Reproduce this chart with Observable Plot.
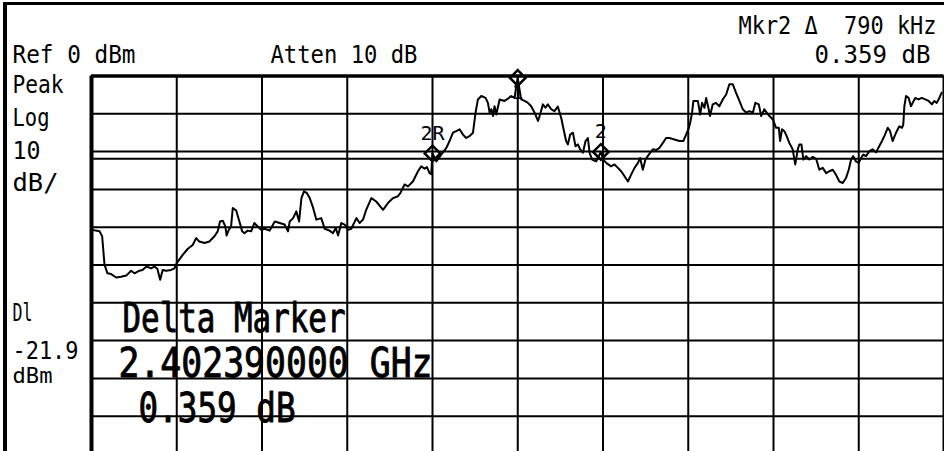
<!DOCTYPE html>
<html><head><meta charset="utf-8">
<script src="https://cdn.jsdelivr.net/npm/d3@7"></script>
<script src="https://cdn.jsdelivr.net/npm/@observablehq/plot@0.6"></script>
<style>
html,body{margin:0;padding:0;background:#fff;}
#wrap{position:relative;width:944px;height:451px;overflow:hidden;background:#fff;}
#border{position:absolute;left:3px;top:2px;width:980px;height:480px;border-left:4px solid #000;border-top:3px solid #000;pointer-events:none;}
</style></head><body>
<div id="wrap"><div id="chart"></div><div id="border"></div></div>
<script>
// ---- data ----
const startMHz = 2400.0, stopMHz = 2404.0;
const refLevelDbm = 0, bottomLevelDbm = -100;
const freqMHz = [
2400.000,2400.019,2400.038,2400.050,2400.061,2400.075,2400.092,2400.116,2400.139,2400.163,
2400.186,2400.202,2400.225,2400.239,2400.258,2400.280,2400.295,2400.309,2400.322,2400.334,
2400.350,2400.374,2400.389,2400.400,2400.428,2400.452,2400.475,2400.491,2400.506,2400.530,
2400.553,2400.577,2400.592,2400.603,2400.616,2400.628,2400.634,2400.644,2400.655,2400.663,
2400.679,2400.694,2400.707,2400.717,2400.733,2400.749,2400.764,2400.780,2400.796,2400.813,
2400.836,2400.860,2400.883,2400.906,2400.922,2400.930,2400.946,2400.961,2400.974,2400.985,
2400.997,2401.011,2401.024,2401.040,2401.055,2401.078,2401.094,2401.117,2401.133,2401.146,
2401.157,2401.172,2401.188,2401.204,2401.219,2401.243,2401.258,2401.274,2401.289,2401.313,
2401.336,2401.368,2401.391,2401.415,2401.438,2401.449,2401.469,2401.485,2401.508,2401.532,
2401.547,2401.563,2401.574,2401.586,2401.594,2401.600,2401.618,2401.641,2401.665,2401.680,
2401.696,2401.711,2401.727,2401.743,2401.758,2401.774,2401.790,2401.802,2401.813,2401.829,
2401.849,2401.860,2401.868,2401.876,2401.884,2401.891,2401.899,2401.915,2401.938,2401.954,
2401.969,2401.985,2401.993,2402.000,2402.008,2402.016,2402.032,2402.048,2402.063,2402.079,
2402.095,2402.105,2402.118,2402.130,2402.141,2402.157,2402.172,2402.188,2402.204,2402.215,
2402.227,2402.235,2402.246,2402.259,2402.271,2402.282,2402.293,2402.306,2402.318,2402.329,
2402.337,2402.349,2402.368,2402.390,2402.401,2402.415,2402.438,2402.454,2402.470,2402.485,
2402.501,2402.517,2402.532,2402.548,2402.564,2402.574,2402.587,2402.599,2402.615,2402.634,
2402.649,2402.665,2402.681,2402.696,2402.712,2402.735,2402.759,2402.777,2402.790,2402.803,
2402.809,2402.818,2402.824,2402.845,2402.856,2402.865,2402.876,2402.884,2402.896,2402.902,
2402.915,2402.930,2402.946,2402.962,2402.978,2402.993,2403.009,2403.024,2403.040,2403.056,
2403.071,2403.087,2403.103,2403.115,2403.131,2403.142,2403.157,2403.168,2403.181,2403.197,
2403.212,2403.225,2403.231,2403.240,2403.251,2403.262,2403.274,2403.290,2403.302,2403.314,
2403.321,2403.331,2403.340,2403.353,2403.368,2403.384,2403.400,2403.415,2403.431,2403.447,
2403.462,2403.478,2403.493,2403.509,2403.525,2403.540,2403.553,2403.564,2403.574,2403.587,
2403.600,2403.611,2403.621,2403.634,2403.650,2403.665,2403.681,2403.696,2403.709,2403.720,
2403.736,2403.747,2403.759,2403.775,2403.790,2403.803,2403.809,2403.814,2403.822,2403.834,
2403.845,2403.853,2403.865,2403.881,2403.896,2403.912,2403.928,2403.943,2403.954,2403.966,
2403.978,2403.989
];
const levelDbm = [
-40.6,-40.9,-41.1,-42.4,-49.9,-52.2,-52.4,-53.3,-53.1,-52.8,
-51.5,-52.2,-51.5,-51.3,-50.4,-50.9,-50.4,-51.0,-53.9,-51.3,
-51.5,-51.3,-50.9,-49.5,-47.3,-45.7,-44.7,-42.9,-43.8,-44.2,
-43.8,-42.4,-41.1,-38.5,-38.3,-39.8,-42.2,-40.7,-39.8,-34.9,
-35.6,-38.5,-41.1,-41.6,-40.9,-41.1,-38.9,-39.8,-40.7,-40.4,
-40.9,-38.5,-38.9,-39.3,-41.1,-38.5,-37.6,-35.8,-38.5,-32.3,
-30.5,-31.0,-32.3,-34.9,-38.0,-37.6,-40.4,-40.9,-41.6,-40.2,
-42.2,-38.9,-39.3,-40.7,-40.4,-37.6,-38.9,-38.0,-35.4,-32.3,
-33.2,-35.4,-33.6,-32.3,-31.8,-31.0,-28.7,-29.2,-27.9,-25.2,
-23.9,-24.5,-24.1,-25.7,-26.0,-20.5,-22.6,-20.8,-19.0,-17.2,
-15.0,-14.6,-14.1,-15.5,-16.4,-15.9,-15.0,-9.7,-6.2,-5.3,
-5.8,-7.1,-9.7,-8.8,-10.6,-8.0,-10.2,-6.2,-6.6,-6.0,
-5.3,-5.8,-2.7,-0.5,-3.5,-6.2,-6.6,-7.1,-8.0,-9.7,
-11.9,-10.2,-7.5,-8.4,-7.5,-8.8,-9.3,-8.1,-11.1,-14.1,
-17.2,-18.1,-15.5,-15.0,-18.6,-18.1,-19.4,-20.3,-17.2,-16.4,
-20.3,-22.1,-22.6,-20.1,-22.1,-23.0,-23.9,-23.4,-24.3,-25.2,
-26.5,-27.9,-26.1,-24.3,-23.0,-21.7,-24.8,-22.1,-20.8,-19.4,
-19.6,-19.0,-17.7,-16.4,-16.4,-16.8,-17.2,-17.2,-15.5,-13.7,
-12.4,-9.7,-6.6,-6.6,-10.2,-7.1,-8.4,-5.8,-8.8,-10.6,
-7.5,-7.1,-8.0,-6.2,-4.9,-2.2,-2.2,-4.4,-6.6,-8.8,
-9.7,-9.3,-9.7,-7.1,-7.5,-10.6,-8.8,-9.7,-10.6,-11.5,
-13.7,-13.7,-17.2,-14.1,-14.6,-15.9,-17.7,-19.4,-23.4,-19.4,
-18.1,-18.1,-22.1,-21.2,-22.1,-21.4,-21.9,-24.8,-24.3,-25.7,
-25.2,-24.8,-26.1,-27.9,-28.3,-27.0,-24.8,-22.1,-21.2,-22.6,
-23.0,-21.7,-20.8,-21.2,-19.9,-19.4,-20.2,-18.6,-17.2,-15.9,
-13.7,-14.6,-17.2,-15.0,-13.3,-13.7,-12.8,-8.0,-5.3,-5.8,
-8.0,-7.1,-5.8,-6.2,-5.8,-6.2,-6.6,-7.5,-6.6,-7.1,
-5.8,-4.4
];
const gridFreqMHz = [2400.4, 2400.8, 2401.2, 2401.6, 2402.0, 2402.4, 2402.8, 2403.2, 2403.6];
const gridLevelDbm = [-10, -20, -30, -40, -50, -60, -70, -80, -90];
const displayLineDbm = -21.9;
const markerNames = ["2R", "1", "2"];
const markerFreqMHz = [2401.6, 2402.0, 2402.39];
const markerLevelDbm = [-20.5, -0.5, -20.1];
const headerTexts = ["Ref 0 dBm", "Atten 10 dB", "Mkr2 \u0394  790 kHz", "0.359 dB"];
const sideTexts = ["Peak", "Log", "10", "dB/", "Dl", "-21.9", "dBm"];
const activeTexts = ["Delta Marker", "2.402390000 GHz", "0.359 dB"];

// ---- build ----
const trace = freqMHz.map((f, i) => ({f, v: levelDbm[i]}));
const markers = markerNames.map((n, i) => ({n, f: markerFreqMHz[i], v: markerLevelDbm[i]}));

const W = 944, H = 451, ML = 91, MT = 75.5;
const FONT = "'DejaVu Sans Mono', monospace";
const lengths = [];
function label(str, x, y, size, width, anchor = "start", outline = 0) {
  lengths.push({str, width});
  return Plot.text([str], {text: d => d, frameAnchor: "top-left", dx: x - ML, dy: y - MT,
    fontSize: size, fontFamily: FONT, textAnchor: anchor, lineAnchor: "top", fill: "#000",
    stroke: outline ? "#000" : "none", strokeWidth: outline});
}

const marks = [
  Plot.ruleX(gridFreqMHz, {stroke: "#000", strokeWidth: 2}),
  Plot.ruleY(gridLevelDbm, {stroke: "#000", strokeWidth: 2}),
  Plot.ruleY([displayLineDbm], {stroke: "#000", strokeWidth: 2}),
  Plot.ruleY([refLevelDbm], {stroke: "#000", strokeWidth: 3.5}),
  Plot.ruleX([startMHz], {stroke: "#000", strokeWidth: 4}),
  Plot.ruleX([stopMHz], {stroke: "#000", strokeWidth: 3}),
  Plot.line(trace, {x: "f", y: "v", stroke: "#000", strokeWidth: 2}),
  Plot.dot(markers, {x: "f", y: "v", symbol: "diamond2", r: 7, stroke: "#000", strokeWidth: 2.5, fill: "none"}),
  Plot.text(markers.filter(d => d.n !== "1"), {x: "f", y: "v", text: "n", dy: -28, lineAnchor: "top",
    fontSize: 20, fontFamily: FONT, fill: "#000"}),
  Plot.text(markers.filter(d => d.n === "1"), {x: "f", y: "v", text: "n", dy: 7, lineAnchor: "top",
    fontSize: 20, fontFamily: FONT, fill: "#000"}),
  label(headerTexts[0], 12, 45, 25, 123),
  label(headerTexts[1], 270, 45, 25, 147),
  label(headerTexts[2], 936, 16, 25, 198, "end"),
  label(headerTexts[3], 930, 45, 25, 116, "end"),
  label(sideTexts[0], 12, 75, 25, 51),
  label(sideTexts[1], 12, 108, 25, 37),
  label(sideTexts[2], 12, 141, 25, 28),
  label(sideTexts[3], 12, 173, 25, 46),
  label(sideTexts[4], 12, 303, 25, 20),
  label(sideTexts[5], 12, 341, 25, 66),
  label(sideTexts[6], 12, 367, 22, 40),
  label(activeTexts[0], 122, 303, 40, 223, "start", 0.9),
  label(activeTexts[1], 118, 348, 40, 314, "start", 0.9),
  label(activeTexts[2], 138, 393, 40, 157, "start", 0.9)
];

const chart = Plot.plot({
  width: W, height: H,
  marginLeft: ML, marginRight: 0.5, marginTop: MT, marginBottom: 0,
  x: {domain: [startMHz, stopMHz], range: [91, 943.5], axis: null},
  y: {domain: [bottomLevelDbm, refLevelDbm], range: [453.5, 75.5], axis: null},
  style: {background: "#fff", overflow: "visible"},
  marks
});
const allTexts = Array.from(chart.querySelectorAll("text"));
const used = new Set();
for (const {str, width} of lengths) {
  const t = allTexts.find(el => !used.has(el) && el.textContent === str);
  if (t) {
    used.add(t);
    t.setAttribute("textLength", width);
    t.setAttribute("lengthAdjust", "spacingAndGlyphs");
  }
}
document.getElementById("chart").appendChild(chart);
</script>
</body></html>
